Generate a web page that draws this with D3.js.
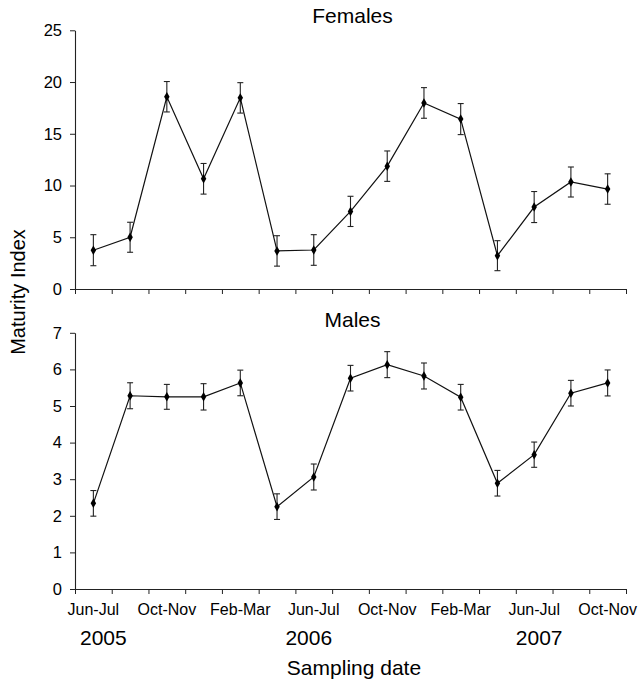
<!DOCTYPE html>
<html>
<head>
<meta charset="utf-8">
<script src="https://cdn.jsdelivr.net/npm/d3@7"></script>
<style>
  html, body { margin: 0; padding: 0; background: #fff; }
  svg { display: block; }
  text { font-family: "Liberation Sans", Arial, sans-serif; fill: #000; }
</style>
</head>
<body>
<svg id="chart" width="644" height="680"></svg>
<script>
// ---- data ----
const periods = ["Jun-Jul","Aug-Sep","Oct-Nov","Dec-Jan","Feb-Mar","Apr-May",
                 "Jun-Jul","Aug-Sep","Oct-Nov","Dec-Jan","Feb-Mar","Apr-May",
                 "Jun-Jul","Aug-Sep","Oct-Nov"];
const tickLabelIdx = [0, 2, 4, 6, 8, 10, 12, 14];
const years = ["2005", "2006", "2007"];
const yearIdx = [0, 6, 12];

const femaleValues = [3.75, 5.0, 18.58, 10.65, 18.47, 3.68, 3.77, 7.5, 11.87, 17.98, 16.42, 3.22, 7.92, 10.34, 9.66];
const femaleErr    = [1.5, 1.45, 1.47, 1.48, 1.47, 1.47, 1.48, 1.46, 1.47, 1.48, 1.5, 1.45, 1.5, 1.45, 1.47];
const maleValues   = [2.34, 5.28, 5.25, 5.25, 5.63, 2.25, 3.06, 5.76, 6.13, 5.82, 5.24, 2.89, 3.67, 5.35, 5.63];
const maleErr      = [0.35, 0.355, 0.34, 0.36, 0.35, 0.35, 0.355, 0.35, 0.355, 0.355, 0.35, 0.35, 0.345, 0.35, 0.355];

const femaleTicks = [0, 5, 10, 15, 20, 25];
const maleTicks   = [0, 1, 2, 3, 4, 5, 6, 7];

// ---- layout ----
const svg = d3.select("#chart");
const left = 75, right = 626;
const x = d3.scaleLinear().domain([0, periods.length]).range([left, right]);

const panels = [
  { title: "Females", values: femaleValues, err: femaleErr, ticks: femaleTicks, max: 25, top: 30.3, bottom: 289, titleY: 23 },
  { title: "Males",   values: maleValues,   err: maleErr,   ticks: maleTicks,   max: 7,  top: 332.8, bottom: 589, titleY: 327 }
];

panels.forEach(p => {
  const y = d3.scaleLinear().domain([0, p.max]).range([p.bottom, p.top]);
  const g = svg.append("g");

  // y axis
  const ya = g.append("g").attr("transform", `translate(${left},0)`)
    .call(d3.axisLeft(y).tickValues(p.ticks).tickFormat(d3.format("d"))
      .tickSize(5).tickPadding(8).tickSizeOuter(0));
  ya.select(".domain").attr("stroke", "#222").attr("stroke-width", 1.1);
  ya.selectAll(".tick line").attr("stroke", "#222");
  ya.selectAll(".tick text").style("font-size", "16.5px").attr("fill", "#000");

  // x axis
  const xa = g.append("g").attr("transform", `translate(0,${p.bottom})`)
    .call(d3.axisBottom(x).tickValues(d3.range(0, periods.length + 1)).tickSize(5).tickFormat("").tickSizeOuter(0));
  xa.select(".domain").attr("stroke", "#222").attr("stroke-width", 1.1);
  xa.selectAll(".tick line").attr("stroke", "#222");

  // title
  g.append("text").attr("x", (left + right) / 2 + 2).attr("y", p.titleY)
    .attr("text-anchor", "middle").style("font-size", "21px").text(p.title);

  const data = p.values.map((v, i) => ({ i, v, e: p.err[i] }));
  const cx = d => x(d.i + 0.5);

  // error bars
  const eb = g.append("g").attr("stroke", "#222").attr("stroke-width", 1.1).attr("fill", "none");
  eb.selectAll("line.v").data(data).join("line").attr("class", "v")
    .attr("x1", cx).attr("x2", cx)
    .attr("y1", d => y(d.v + d.e)).attr("y2", d => y(d.v - d.e));
  eb.selectAll("line.t").data(data).join("line").attr("class", "t")
    .attr("x1", d => cx(d) - 3).attr("x2", d => cx(d) + 3)
    .attr("y1", d => y(d.v + d.e)).attr("y2", d => y(d.v + d.e));
  eb.selectAll("line.b").data(data).join("line").attr("class", "b")
    .attr("x1", d => cx(d) - 3).attr("x2", d => cx(d) + 3)
    .attr("y1", d => y(d.v - d.e)).attr("y2", d => y(d.v - d.e));

  // line
  g.append("path").datum(data)
    .attr("fill", "none").attr("stroke", "#111").attr("stroke-width", 1.2)
    .attr("d", d3.line().x(cx).y(d => y(d.v)));

  // markers
  g.selectAll("path.m").data(data).join("path").attr("class", "m")
    .attr("transform", d => `translate(${cx(d)},${y(d.v)})`)
    .attr("d", d3.symbol(d3.symbolDiamond, 26))
    .attr("fill", "#000");
});

// x tick labels (bottom panel)
svg.append("g").selectAll("text").data(tickLabelIdx).join("text")
  .attr("x", i => x(i + 0.5)).attr("y", 615)
  .attr("text-anchor", "middle").style("font-size", "16px")
  .text(i => periods[i]);

// year labels
const yearDx = [10, -5, 5];
svg.append("g").selectAll("text").data(years).join("text")
  .attr("x", (d, k) => x(yearIdx[k] + 0.5) + yearDx[k]).attr("y", 645)
  .attr("text-anchor", "middle").style("font-size", "21px")
  .text(d => d);

// axis titles
svg.append("text").attr("x", 354).attr("y", 675)
  .attr("text-anchor", "middle").style("font-size", "21px").text("Sampling date");

svg.append("text").attr("transform", "translate(25,292) rotate(-90)")
  .attr("text-anchor", "middle").style("font-size", "20px").text("Maturity Index");
</script>
</body>
</html>
